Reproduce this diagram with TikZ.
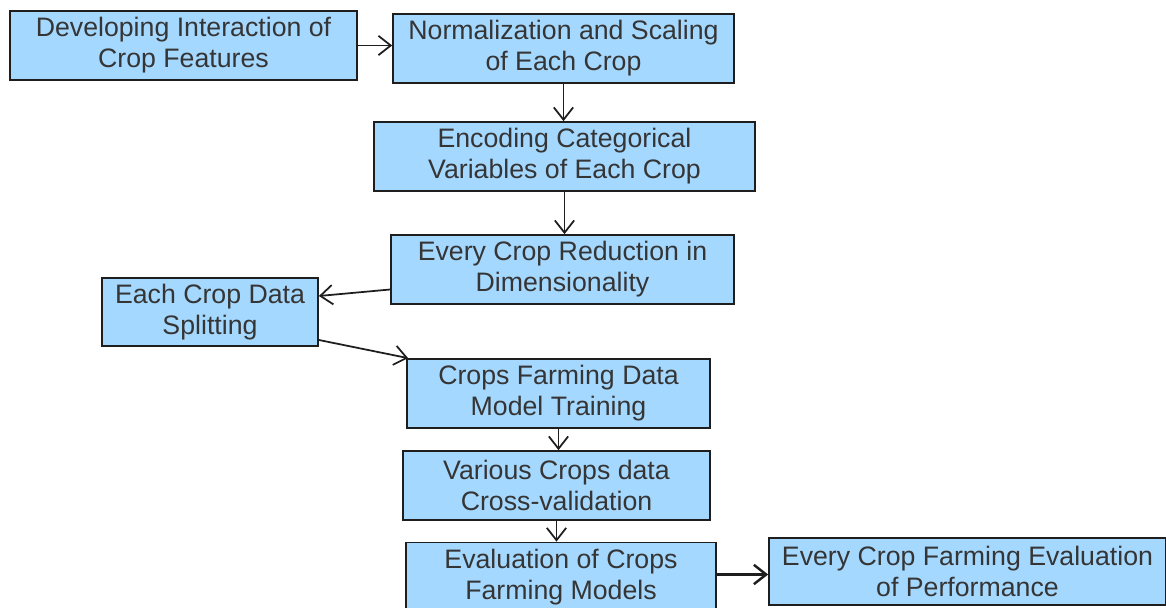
\documentclass[tikz,border=0pt]{standalone}
\usepackage{fontspec}
\setmainfont{Liberation Sans}
\usetikzlibrary{arrows.meta}
\definecolor{boxblue}{HTML}{A5D8FF}
\definecolor{ink}{HTML}{1E1E1E}
\begin{document}
\begin{tikzpicture}[
    x=0.02cm, y=-0.02cm,
    box/.style={rectangle, draw=ink, line width=1pt, fill=boxblue, text=ink!90, align=center,
        minimum height=1.38cm, inner sep=1pt, font=\fontsize{15.2}{17.6}\selectfont},
    arrow/.style={-{Straight Barb[length=7pt, width=11pt]}, draw=ink, line width=1pt},
]
\useasboundingbox (0,0) rectangle (1166,608);

% Top row
\node[box, minimum width=6.94cm] (features) at (183.5, 45.5) {Developing Interaction of\\Crop Features};
\node[box, minimum width=6.82cm] (scaling) at (563.5, 48.5) {Normalization and Scaling\\of Each Crop};

% Middle column
\node[box, minimum width=7.62cm] (encoding) at (564.5, 156.5) {Encoding Categorical\\Variables of Each Crop};
\node[box, minimum width=6.86cm] (reduction) at (562.5, 269.5) {Every Crop Reduction in\\Dimensionality};

% Splitting on the left
\node[box, minimum width=4.32cm, minimum height=1.36cm] (splitting) at (210, 312) {Each Crop Data\\Splitting};

% Lower column
\node[box, minimum width=6.06cm] (training) at (558.5, 393.5) {Crops Farming Data\\Model Training};
\node[box, minimum width=6.14cm] (crossval) at (556.5, 485.5) {Various Crops data\\Cross-validation};
\node[box, minimum width=6.2cm] (evaluation) at (561, 577) {Evaluation of Crops\\Farming Models};
\node[box, minimum width=7.94cm, minimum height=1.34cm] (performance) at (967.5, 571.5) {Every Crop Farming Evaluation\\of Performance};

% Arrows
\draw[arrow] (features.east) -- (features.east -| scaling.west);
\draw[arrow] (scaling.south) -- (scaling.south |- encoding.north);
\draw[arrow] (encoding.south) -- (encoding.south |- reduction.north);
\draw[arrow] ([yshift=-0.4cm]reduction.west) -- ([yshift=0.32cm]splitting.east);
\draw[arrow] ([yshift=-0.56cm]splitting.east) -- ([xshift=0.04cm]training.north west);
\draw[arrow] (training.south) -- (training.south |- crossval.north);
\draw[arrow] (crossval.south) -- (crossval.south |- evaluation.north);
\draw[arrow, line width=1.4pt] ([yshift=0.05cm]evaluation.east) -- ([yshift=0.05cm]evaluation.east -| performance.west);

\end{tikzpicture}
\end{document}
